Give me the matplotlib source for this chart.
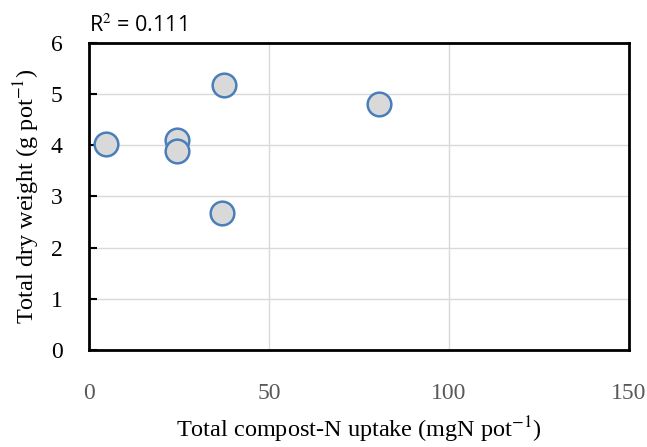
import matplotlib
matplotlib.use('Agg')
import matplotlib.pyplot as plt

#values
compost_n_uptake = [4.6, 24.4, 24.4, 37.6, 36.9, 80.5]
dry_weight = [4.02, 4.10, 3.88, 5.18, 2.67, 4.80]
x_ticks = [0, 50, 100, 150]
y_ticks = [0, 1, 2, 3, 4, 5, 6]
r2_text = 'R$^2$ = 0.111'

plt.rcParams['font.family'] = ['Liberation Serif', 'DejaVu Serif']
plt.rcParams['mathtext.fontset'] = 'stix'

fig = plt.figure(figsize=(6.47, 4.47), dpi=100)
ax = fig.add_axes([0.1376, 0.217, 0.8344, 0.687])

ax.scatter(compost_n_uptake, dry_weight, s=290, facecolor='#d9d9d9',
           edgecolor='#4a7ebb', linewidth=1.8, zorder=3)

ax.set_xlim(0, 150)
ax.set_ylim(0, 6)
ax.set_xticks(x_ticks)
ax.set_yticks(y_ticks)
ax.grid(True, color='#d9d9d9', linewidth=1)
ax.set_axisbelow(True)

for s in ax.spines.values():
    s.set_color('black')
    s.set_linewidth(2)

ax.tick_params(axis='x', length=0, pad=24, labelsize=17, labelcolor='#595959')
ax.tick_params(axis='y', direction='in', length=6, width=1.5, pad=19, labelsize=17)

ax.set_xlabel('Total compost-N uptake (mgN pot$^{-1}$)', fontsize=17.5, labelpad=7)
ax.set_ylabel('Total dry weight (g pot$^{-1}$)', fontsize=17.5, labelpad=6)

ax.text(0.0, 1.02, r2_text, transform=ax.transAxes, fontsize=15.5,
        family=['Open Sans', 'DejaVu Sans'], ha='left', va='bottom')

fig.savefig('out.png', dpi=100)
